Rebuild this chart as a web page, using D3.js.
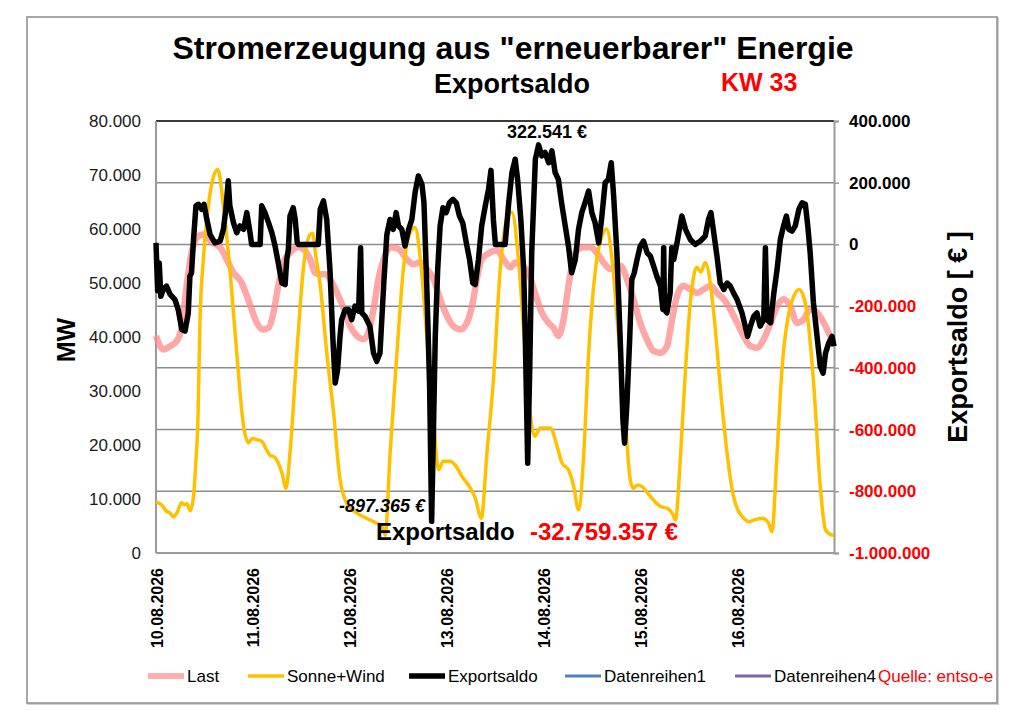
<!DOCTYPE html>
<html>
<head>
<meta charset="utf-8">
<script src="https://cdn.jsdelivr.net/npm/d3@7"></script>
<style>
  html, body { margin: 0; padding: 0; background: #fff; }
  svg { display: block; font-family: "Liberation Sans", Arial, sans-serif; }
</style>
</head>
<body>
<div id="chart"></div>
<script>
// ── Data (hours after 10.08.2026 00:00) ────────────────────────────────────
const lastHours = [0, 1.8, 3.5, 5.1, 6.4, 7.6, 8.8, 10.5, 11.7, 13.8, 15.9, 17.5, 19.2, 21.2, 22.5, 23.7,
  25, 26.6, 27.9, 29.1, 30.3, 31.6, 33.2, 35.3, 36.9, 38.2, 39.4, 40.7, 41.9, 43.6, 45.2, 46.9,
  48.1, 49.8, 51.4, 52.6, 53.9, 55.1, 56.4, 58, 60.1, 62.1, 63.8, 65.5, 67.1, 68.8, 70.4, 72.1,
  73.7, 75.4, 77, 78.3, 79.5, 80.7, 82, 84.5, 86.1, 87.8, 89, 90.6, 92.3, 93.9, 95.6, 97.3,
  98.5, 99.7, 101, 102.2, 103.9, 105.9, 107.6, 109.2, 110.9, 112.6, 115.1, 116.7, 118.3, 120,
  121.6, 123.3, 125, 126.6, 127.9, 129.1, 130.7, 132.4, 134, 135.7, 137.4, 139, 140.7, 142.3,
  144, 145.6, 147.3, 148.9, 150.6, 152.3, 153.9, 155.5, 157.2, 158.8, 160.5, 162.1, 163.8,
  165.5, 167.1, 168];
const lastMW = [40200, 37700, 38300, 39200, 42000, 49500, 55600, 58700, 59000, 57500, 56600, 54400, 51900, 50100, 47600, 45100,
  42600, 41400, 41700, 44500, 49500, 53800, 55600, 56600, 56000, 54400, 51900, 51600, 51600, 50100, 47600, 44500,
  42000, 40200, 39600, 40800, 45100, 50700, 54400, 56600, 56300, 54400, 53500, 53800, 52600, 50700, 47000, 43900,
  42000, 41400, 42600, 45700, 50700, 54400, 55300, 56000, 54400, 52900, 53800, 53200, 51900, 48200, 44500, 42600,
  41700, 40200, 43300, 49500, 55600, 56600, 56600, 55600, 53800, 52600, 53200, 50700, 47000, 42600,
  39600, 37400, 37100, 38300, 43300, 47600, 49500, 48800, 48200, 48800, 49500, 48200, 47000, 45100,
  42600, 40200, 38300, 38000, 39600, 42600, 45700, 47000, 45700, 42600, 43300, 45100, 44500,
  42600, 40200, 39500];

const windSunHours = [0, 1.5, 2.5, 3.5, 4.3, 5.3, 6.3, 7, 7.7, 8.5, 9.3, 9.8, 10.4, 10.9, 11.7, 12.6, 14.2, 15.3,
  16.7, 18.3, 20, 21.7, 22.9, 23.8, 25, 26.2, 27.4, 28.4, 29.1, 30.3, 31.2, 32.2, 33.2, 34.9, 36.5,
  38.2, 38.8, 39.6, 40.7, 42.3, 44, 45.6, 47.3, 49.8, 52.2, 54.7, 56, 56.8, 58, 59.7, 61.3, 63, 64.2,
  65.5, 67.1, 68.8, 70, 71.2, 72.9, 74.1, 75.8, 77.9, 79.1, 80.6, 82, 83.6, 85.3, 86.9, 88.2, 89.8,
  91.5, 92.7, 93.9, 95.2, 97.7, 99.4, 100.6, 102.2, 103.5, 104.7, 106, 107.2, 108.9, 110.9, 111.7,
  113, 114.6, 116.3, 117.5, 118.3, 119.3, 120.4, 122.5, 125, 126.6, 127.9, 128.7, 130, 131.2, 132.4,
  134, 135, 136.1, 138.2, 139.8, 141.5, 143.1, 145.6, 147, 148.1, 150.2, 151.8, 152.6, 153.9, 155.1,
  156.8, 158, 159.3, 160.3, 161.3, 163, 164.6, 165.9, 167.5, 168];
const windSunMW = [9500, 8800, 7800, 7400, 6700, 7600, 9300, 9000, 9100, 7800, 10500, 16000, 25000, 43300, 54000, 61800, 69600, 71000,
  64300, 52600, 37100, 23500, 20400, 21200, 21000, 20700, 19100, 18000, 17900, 16650, 14800, 12000, 18500, 37100, 52600,
  59000, 59200, 55000, 49500, 37100, 25900, 13600, 9200, 7400, 6440, 5500, 5000, 3300, 18500, 37100, 52600, 59400, 60300,
  54400, 40200, 24700, 15400, 17000, 17000, 16300, 14200, 12000, 10150, 6440, 18500, 32000, 52600, 61800, 63100, 54400,
  37100, 25900, 21600, 23150, 23150, 19700, 16650, 15400, 12300, 8000, 18500, 37100, 52600, 59400, 60000,
  54400, 40200, 24700, 13600, 12000, 12600, 12300, 10460, 8600, 8300, 7400, 6100, 18500, 34000, 46400,
  52900, 52000, 53800, 44500, 30900, 18500, 10460, 6440, 5800, 6100, 6440, 5500, 3960, 18500, 34000,
  44500, 47500, 48800, 47800, 44500, 30900, 12300, 4270, 3340, 3300];

const exportHours = [0, 0.4, 0.8, 1.2, 1.8, 2.6, 3.5, 4.7, 5.5, 6.4, 7.2, 8, 8.4, 8.8, 9.3, 9.9, 10.5, 11.3, 11.9,
  12.6, 13.4, 14.6, 15.9, 16.7, 17.3, 17.9, 18.3, 19.2, 20, 20.8, 21.7, 22.5, 23.3, 23.7, 25.8, 26.2, 27,
  27.9, 28.7, 29.5, 30.3, 31.2, 32, 32.4, 32.8, 33.2, 34, 34.5, 35, 35.3, 40.2, 40.7, 41.5, 42.3, 43.1,
  43.8, 44.4, 45, 45.6, 46, 46.9, 47.7, 48.5, 49.3, 50.2, 50.7, 51, 51.8, 53, 53.9, 54.7, 55.5, 56.4,
  57.2, 58, 58.8, 59.5, 60.1, 60.9, 61.7, 62.6, 63.4, 64.2, 65, 65.9, 66.4, 67.1, 67.8, 68.1, 68.3,
  68.8, 69.2, 69.8, 70.4, 71.1, 71.9, 72.7, 73.6, 74.4, 75.2, 76, 76.9, 77.7, 78.5, 79.1, 79.9, 80.7,
  81.6, 82.4, 83, 83.6, 84.1, 86.5, 87.4, 88.2, 89, 89.6, 90.4, 91.1, 91.5, 92.1, 92.6, 93.1, 94,
  94.8, 95.6, 96.4, 97.3, 98.1, 98.9, 99.7, 100.5, 101.4, 102.2, 103, 103.9, 104.7, 105.5, 106.3,
  107.2, 108, 108.8, 109.7, 110.4, 111.3, 112.1, 112.8, 113.4, 114.2, 115, 115.7, 116.1, 116.7,
  117.4, 117.9, 118.5, 119.2, 120, 120.8, 121.7, 122.5, 123.3, 124.1, 125, 125.6, 125.8, 126,
  126.6, 127.4, 127.8, 128.3, 129.1, 129.7, 130.3, 131.2, 132.4, 133.6, 134.9, 136.1, 136.9,
  137.5, 138.2, 139, 139.8, 140.7, 141.5, 142.3, 143.1, 144, 145.2, 146, 146.6, 147.3, 148.1,
  148.9, 149.7, 150.6, 151, 151.4, 152.3, 153.1, 153.9, 154.7, 155.5, 156.2, 156.8, 157.6, 158.4,
  159.3, 160.1, 160.9, 161.5, 162.1, 162.9, 163.8, 164.6, 165.3, 165.9, 166.7, 167.5, 168];
const exportEUR = [5000, -150000, -60000, -168000, -146000, -135000, -162000, -179000, -211000, -276000, -281000, -222000, -103000, -92000, 16000, 125000, 130000, 114000, 130000,
  81000, 32000, 5000, 11000, 49000, 114000, 206000, 125000, 70000, 38000, 60000, 49000, 103000, 38000, 0, 0, 125000, 103000,
  70000, 38000, -5000, -60000, -125000, -130000, -49000, -16000, 92000, 119000, 81000, 5000, 0, 0, 114000, 141000, 81000, -81000,
  -298000, -449000, -406000, -298000, -244000, -211000, -211000, -244000, -200000, -216000, -11000, -222000, -233000, -265000, -352000, -379000, -352000, -135000,
  32000, 81000, 49000, 103000, 60000, 49000, -5000, 49000, 81000, 168000, 222000, 195000, 135000, -135000, -460000, -731000, -897365,
  -568000, -298000, -81000, 60000, 119000, 103000, 135000, 146000, 135000, 92000, 70000, 5000, -49000, -125000, -130000, -49000, 60000,
  125000, 179000, 240000, 81000, 0, 0, 135000, 233000, 276000, 211000, 81000, -81000, -298000, -709000, -406000, -27000, 276000,
  322541, 287000, 298000, 265000, 303000, 233000, 211000, 135000, 60000, -5000, -92000, -49000, 49000, 103000, 135000,
  173000, 103000, 70000, 5000, 81000, 200000, 211000, 265000, 157000, -27000, -298000, -568000, -644000, -514000,
  -298000, -114000, -92000, -49000, -5000, 11000, -27000, -38000, -70000, -103000, -135000, -211000, -11000, -211000,
  -222000, -157000, -11000, -49000, 5000, 49000, 92000, 49000, 16000, 0, 11000, 27000, 81000,
  103000, 38000, -38000, -125000, -146000, -125000, -135000, -157000, -179000, -222000, -265000, -298000, -265000, -233000,
  -222000, -265000, -244000, -11000, -244000, -254000, -157000, -81000, 16000, 60000, 92000, 49000, 43000, 60000,
  114000, 135000, 130000, 60000, -27000, -189000, -298000, -395000, -417000, -352000, -319000, -298000, -330000];

const leftTicks  = [0, 10000, 20000, 30000, 40000, 50000, 60000, 70000, 80000];
const rightTicks = [-1000000, -800000, -600000, -400000, -200000, 0, 200000, 400000];

const legendNames  = ['Last', 'Sonne+Wind', 'Exportsaldo', 'Datenreihen1', 'Datenreihen4'];
const legendColors = ['#ff9a9a', '#ffc000', '#000000', '#4f81bd', '#8064a2'];
const legendWidths = [6, 3.5, 5.5, 3, 3];
const legendX      = [148, 248, 409, 565, 735];

const maxLabel   = '322.541 €';
const minLabel   = '-897.365 €';
const totalLabel = '-32.759.357 €';

// ── Layout ─────────────────────────────────────────────────────────────────
const W = 1024, H = 721;
const M = { left: 156, right: 834, top: 121, bottom: 553 };

const de = d3.formatLocale({ decimal: ',', thousands: '.', grouping: [3], currency: ['', ' €'], minus: '-' });
const fmt = de.format(',.0f');

const svg = d3.select('#chart').append('svg').attr('width', W).attr('height', H);

// outer frame
svg.append('rect').attr('x', 28).attr('y', 18).attr('width', 970).attr('height', 686)
  .attr('fill', 'none').attr('stroke', '#d0d0d0').attr('stroke-width', 2);
svg.append('rect').attr('x', 27).attr('y', 17).attr('width', 970).attr('height', 686)
  .attr('fill', '#fff').attr('stroke', '#8c8c8c').attr('stroke-width', 1.5);

// titles
svg.append('text').attr('x', 513).attr('y', 59).attr('text-anchor', 'middle')
  .attr('font-size', 32).attr('font-weight', 'bold')
  .text('Stromerzeugung aus "erneuerbarer" Energie');
svg.append('text').attr('x', 512).attr('y', 93).attr('text-anchor', 'middle')
  .attr('font-size', 27).attr('font-weight', 'bold').text('Exportsaldo');
svg.append('text').attr('x', 721).attr('y', 91)
  .attr('font-size', 25).attr('font-weight', 'bold').attr('fill', '#ff0000').text('KW 33');

// ── Scales ─────────────────────────────────────────────────────────────────
const t0 = new Date(2026, 7, 10);
const t1 = new Date(2026, 7, 17);
const toDate = h => new Date(t0.getTime() + h * 3600e3);

const x  = d3.scaleTime().domain([t0, t1]).range([M.left, M.right]);
const yL = d3.scaleLinear().domain([0, 80000]).range([M.bottom, M.top]);
const yR = d3.scaleLinear().domain([-1000000, 400000]).range([M.bottom, M.top]);

// gridlines (follow right axis)
svg.append('g').selectAll('line').data(rightTicks.slice(1, -1)).join('line')
  .attr('x1', M.left).attr('x2', M.right)
  .attr('y1', d => yR(d)).attr('y2', d => yR(d))
  .attr('stroke', '#8c8c8c').attr('stroke-width', 1.5);

// plot border
svg.append('line').attr('x1', M.left).attr('x2', M.right).attr('y1', M.top).attr('y2', M.top)
  .attr('stroke', '#3a3a3a').attr('stroke-width', 2);
svg.append('line').attr('x1', M.left).attr('x2', M.right).attr('y1', M.bottom).attr('y2', M.bottom)
  .attr('stroke', '#9a9a9a').attr('stroke-width', 2);
svg.append('line').attr('x1', M.left).attr('x2', M.left).attr('y1', M.top).attr('y2', M.bottom)
  .attr('stroke', '#9a9a9a').attr('stroke-width', 2);

// ── Axes ───────────────────────────────────────────────────────────────────
const gL = svg.append('g').attr('transform', `translate(${M.left},0)`)
  .call(d3.axisLeft(yL).tickValues(leftTicks).tickSize(0).tickPadding(15).tickFormat(fmt));
gL.select('.domain').remove();
gL.selectAll('text').attr('font-size', 17).attr('font-family', null).attr('fill', '#1a1a1a');

const gR = svg.append('g').attr('transform', `translate(${M.right},0)`)
  .call(d3.axisRight(yR).tickValues(rightTicks).tickSize(5).tickPadding(10).tickFormat(fmt));
gR.select('.domain').attr('stroke', '#9a9a9a').attr('stroke-width', 2);
gR.selectAll('line').attr('stroke', '#9a9a9a').attr('stroke-width', 1.5);
gR.selectAll('text').attr('font-size', 17).attr('font-weight', 'bold').attr('font-family', null)
  .attr('fill', d => d < 0 ? '#ff0000' : '#000');

const gX = svg.append('g').attr('transform', `translate(0,${M.bottom})`)
  .call(d3.axisBottom(x).tickValues(d3.timeDays(t0, t1)).tickSize(0).tickFormat(d3.timeFormat('%d.%m.%Y')));
gX.select('.domain').remove();
gX.selectAll('text')
  .attr('font-size', 16).attr('font-weight', 'bold').attr('font-family', null)
  .attr('text-anchor', 'end').attr('dy', null).attr('y', 0)
  .attr('transform', 'translate(6,15) rotate(-90)');

// axis titles
svg.append('text').attr('transform', 'translate(75,340) rotate(-90)').attr('text-anchor', 'middle')
  .attr('font-size', 25).attr('font-weight', 'bold').text('MW');
svg.append('text').attr('transform', 'translate(967,337) rotate(-90)').attr('text-anchor', 'middle')
  .attr('font-size', 27).attr('font-weight', 'bold').text('Exportsaldo [ € ]');

// ── Lines ──────────────────────────────────────────────────────────────────
const lineL = d3.line().x(d => x(toDate(d[0]))).y(d => yL(d[1])).curve(d3.curveMonotoneX);
const lineR = d3.line().x(d => x(toDate(d[0]))).y(d => yR(d[1]));

svg.append('path').datum(d3.zip(lastHours, lastMW)).attr('d', lineL)
  .attr('fill', 'none').attr('stroke', '#ff8a8a').attr('stroke-opacity', 0.75)
  .attr('stroke-width', 6.5).attr('stroke-linejoin', 'round');
svg.append('path').datum(d3.zip(windSunHours, windSunMW)).attr('d', lineL)
  .attr('fill', 'none').attr('stroke', '#ffc000').attr('stroke-width', 3.5).attr('stroke-linejoin', 'round');
svg.append('path').datum(d3.zip(exportHours, exportEUR)).attr('d', lineR)
  .attr('fill', 'none').attr('stroke', '#000').attr('stroke-width', 5.5).attr('stroke-linejoin', 'round');

// annotations
svg.append('text').attr('x', 547).attr('y', 138).attr('text-anchor', 'middle')
  .attr('font-size', 18).attr('font-weight', 'bold').text(maxLabel);
svg.append('text').attr('x', 425).attr('y', 512).attr('text-anchor', 'end')
  .attr('font-size', 18).attr('font-weight', 'bold').attr('font-style', 'italic').text(minLabel);
svg.append('text').attr('x', 376).attr('y', 540)
  .attr('font-size', 24).attr('font-weight', 'bold').text('Exportsaldo');
svg.append('text').attr('x', 530).attr('y', 540)
  .attr('font-size', 24).attr('font-weight', 'bold').attr('fill', '#ff0000').text(totalLabel);

// ── Legend ─────────────────────────────────────────────────────────────────
legendNames.forEach((name, i) => {
  const lx = legendX[i];
  svg.append('line').attr('x1', lx).attr('x2', lx + 36).attr('y1', 676).attr('y2', 676)
    .attr('stroke', legendColors[i]).attr('stroke-width', legendWidths[i])
    .attr('stroke-opacity', i === 0 ? 0.8 : 1);
  svg.append('text').attr('x', lx + 39).attr('y', 682)
    .attr('font-size', 17).text(name);
});
svg.append('text').attr('x', 878).attr('y', 682).attr('font-size', 17).attr('fill', '#ff0000')
  .text('Quelle: entso-e');
</script>
</body>
</html>
